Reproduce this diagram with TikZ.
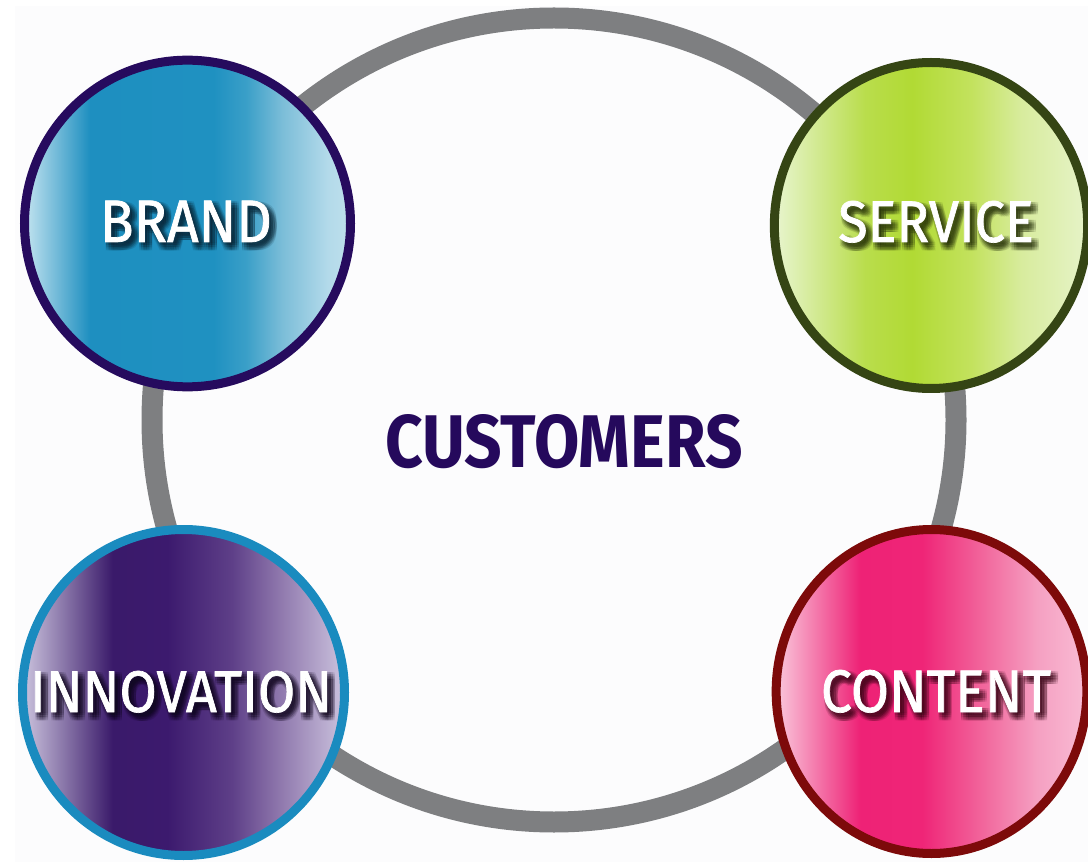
\documentclass[tikz,border=0pt]{standalone}
\usepackage{fontspec}
\setmainfont{Fira Sans}
\newfontfamily\labelfont{Fira Sans}[FakeStretch=0.92,FakeBold=1.2]
\newfontfamily\centrefont{Fira Sans}[FakeStretch=0.88]
\usetikzlibrary{calc,shapes.geometric}

% palette
\definecolor{pagebg}{HTML}{FCFCFD}
\definecolor{ringgray}{HTML}{7E7F81}
\definecolor{custink}{HTML}{25095C}

\definecolor{brandedge}{HTML}{260B5E}
\definecolor{brandA}{HTML}{C4E4F0}
\definecolor{brandC}{HTML}{1E8FC0}
\definecolor{brandD}{HTML}{1F91C1}
\definecolor{brandE}{HTML}{3A9FC8}
\definecolor{brandF}{HTML}{7BBDD8}
\definecolor{brandG}{HTML}{B3DAEA}
\definecolor{brandH}{HTML}{BFE0EC}
\definecolor{brandshadow}{HTML}{0A2433}

\definecolor{serviceedge}{HTML}{354514}
\definecolor{serviceA}{HTML}{E8F5CF}
\definecolor{serviceC}{HTML}{B9DD4C}
\definecolor{serviceD}{HTML}{B1DA34}
\definecolor{serviceE}{HTML}{C3E25E}
\definecolor{serviceF}{HTML}{D8EC9E}
\definecolor{serviceG}{HTML}{E6F3C8}
\definecolor{serviceshadow}{HTML}{26300C}

\definecolor{innoedge}{HTML}{1A8BBF}
\definecolor{innoA}{HTML}{CCC4DE}
\definecolor{innoC}{HTML}{3A1A6A}
\definecolor{innoD}{HTML}{3C1A6E}
\definecolor{innoE}{HTML}{5E3F88}
\definecolor{innoF}{HTML}{8F78AD}
\definecolor{innoG}{HTML}{CCC3DE}
\definecolor{innoshadow}{HTML}{12081F}

\definecolor{contentedge}{HTML}{7D0A0A}
\definecolor{contentA}{HTML}{FAC8DC}
\definecolor{contentC}{HTML}{EE2276}
\definecolor{contentD}{HTML}{EF2577}
\definecolor{contentE}{HTML}{F26B9F}
\definecolor{contentF}{HTML}{F5A0C2}
\definecolor{contentG}{HTML}{F9BCD4}
\definecolor{contentshadow}{HTML}{3A0818}

% left-to-right fills; 25bp..75bp spans the disc
\pgfdeclarehorizontalshading{brandfill}{100bp}{color(0bp)=(brandA); color(25bp)=(brandA); color(35bp)=(brandC); color(54bp)=(brandD); color(59bp)=(brandE); color(64.5bp)=(brandF); color(71.5bp)=(brandG); color(75bp)=(brandH); color(100bp)=(brandH)}
\pgfdeclarehorizontalshading{servicefill}{100bp}{color(0bp)=(serviceA); color(25bp)=(serviceA); color(39.5bp)=(serviceC); color(47bp)=(serviceD); color(56.5bp)=(serviceE); color(64.5bp)=(serviceF); color(75bp)=(serviceG); color(100bp)=(serviceG)}
\pgfdeclarehorizontalshading{innofill}{100bp}{color(0bp)=(innoA); color(25bp)=(innoA); color(39bp)=(innoC); color(47.5bp)=(innoD); color(57.5bp)=(innoE); color(65bp)=(innoF); color(75bp)=(innoG); color(100bp)=(innoG)}
\pgfdeclarehorizontalshading{contentfill}{100bp}{color(0bp)=(contentA); color(25bp)=(contentA); color(38.5bp)=(contentC); color(48.5bp)=(contentD); color(59bp)=(contentE); color(67bp)=(contentF); color(75bp)=(contentG); color(100bp)=(contentG)}

\tikzset{
  disc/.style={ellipse, inner sep=0pt, line width=6.75pt},
  lbl/.style={anchor=base, inner sep=0pt, outer sep=0pt},
}

% white label with a soft drop shadow built from faint offset copies
\newcommand\shadowedlabel[5]{%
  \foreach \dx in {-2,...,2}{\foreach \dy in {-2,...,2}{
    \node[lbl, font=\labelfont\fontsize{#4}{#4}\selectfont, text=#3, opacity=0.08]
      (#1-s\dx\dy) at ($(#2)+({4+1.7*\dx},{4.5+1.7*\dy})$) {#5};}}
  \node[lbl, font=\labelfont\fontsize{#4}{#4}\selectfont, text=white] (#1) at (#2) {#5};
}

\begin{document}
\begin{tikzpicture}[x=0.75pt, y=-0.75pt]
  \useasboundingbox (0,0) rectangle (1088,862);
  \fill[white] (0,0) rectangle (1088,862);
  \fill[pagebg] (15,6) rectangle (1088,862);

  % the customer ring
  \node[circle, draw=ringgray, line width=15.75pt, minimum size=603pt, inner sep=0pt] (ring) at (554,420) {};

  % four surrounding discs
  \node[disc, draw=brandedge, shading=brandfill, minimum width=244.5pt, minimum height=245pt] (brand) at (187.5,223.5) {};
  \node[disc, draw=serviceedge, shading=servicefill, minimum width=235pt, minimum height=244.5pt] (service) at (931,225.5) {};
  \node[disc, draw=innoedge, shading=innofill, minimum width=241.5pt, minimum height=244.5pt] (innovation) at (183.5,692.5) {};
  \node[disc, draw=contentedge, shading=contentfill, minimum width=233pt, minimum height=243pt] (content) at (931.5,691.5) {};

  % labels
  \coordinate (brandbase) at (186,242);
  \coordinate (servicebase) at (936,242);
  \coordinate (innobase) at (181,712);
  \coordinate (contentbase) at (936,712);
  \shadowedlabel{brandtext}{brandbase}{brandshadow}{45}{BRAND}
  \shadowedlabel{servicetext}{servicebase}{serviceshadow}{44}{SERVICE}
  \shadowedlabel{innotext}{innobase}{innoshadow}{44}{INNOVATION}
  \shadowedlabel{contenttext}{contentbase}{contentshadow}{45}{CONTENT}

  \node[lbl, font=\centrefont\bfseries\fontsize{56}{56}\selectfont, text=custink] (customers) at (564,468) {CUSTOMERS};
\end{tikzpicture}
\end{document}
